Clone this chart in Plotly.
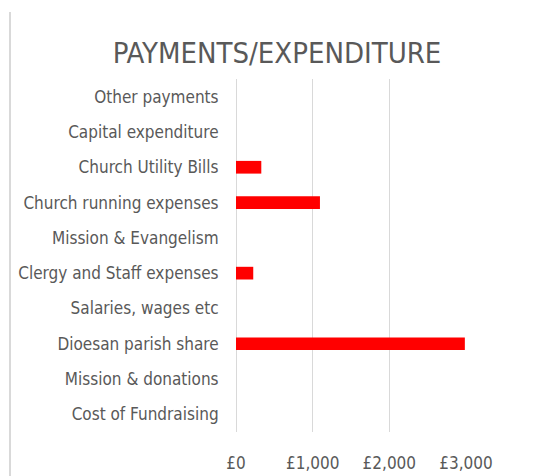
import plotly.graph_objects as go

categories = ["Cost of Fundraising", "Mission & donations", "Dioesan parish share",
              "Salaries, wages etc", "Clergy and Staff expenses", "Mission & Evangelism",
              "Church running expenses", "Church Utility Bills", "Capital expenditure",
              "Other payments"]
values = [0, 0, 2985, 0, 225, 0, 1095, 330, 0, 0]
tick_vals = [0, 1000, 2000, 3000]
tick_text = ["£0", "£1,000", "£2,000", "£3,000"]

FONT = "DejaVu Sans Condensed, Liberation Sans Narrow, sans-serif"
GREY = "#595959"

fig = go.Figure(go.Bar(
    y=categories, x=values, orientation="h",
    marker=dict(color="#ff0000", line=dict(width=0)),
    width=0.36,
))

# the page body adds an 8px offset, so the figure is drawn 8px smaller
OFF = 8
W, H = 534 - OFF, 476 - OFF
L, T = 236 - OFF, 79 - OFF
PW, PH = 230, 353
R, B = W - L - PW, H - T - PH

fig.update_layout(
    width=W, height=H,
    margin=dict(l=L, r=R, t=T, b=B, autoexpand=False),
    paper_bgcolor="white", plot_bgcolor="white",
    showlegend=False,
    title=dict(text="PAYMENTS/EXPENDITURE", x=(277 - OFF) / W, xref="container", xanchor="center",
               y=1 - (53 - OFF) / H, yref="container", yanchor="middle",
               font=dict(family=FONT, size=29, color=GREY)),
    font=dict(family=FONT, color=GREY),
    bargap=0.64,
)
fig.update_xaxes(range=[0, 3000], tickvals=tick_vals, ticktext=tick_text,
                 showgrid=True, gridcolor="#d9d9d9", gridwidth=1,
                 zeroline=True, zerolinecolor="#d9d9d9", zerolinewidth=1,
                 showline=False, automargin=False,
                 ticks="outside", ticklen=16, tickcolor="rgba(0,0,0,0)",
                 tickfont=dict(family=FONT, size=17, color=GREY))
fig.update_yaxes(categoryorder="array", categoryarray=categories,
                 range=[-0.5, 9.5], automargin=False,
                 showgrid=False, zeroline=False, showline=False,
                 ticks="outside", ticklen=13, tickcolor="rgba(0,0,0,0)",
                 tickfont=dict(family=FONT, size=17, color=GREY))

# thin frame line at the left edge of the image
x_left = (10 - 236) / PW
fig.add_shape(type="line", xref="paper", yref="paper",
              x0=x_left, x1=x_left, y0=-(B + 20) / PH, y1=(PH + T - 4) / PH,
              line=dict(color="#d9d9d9", width=2))

fig.write_html("out.html")
